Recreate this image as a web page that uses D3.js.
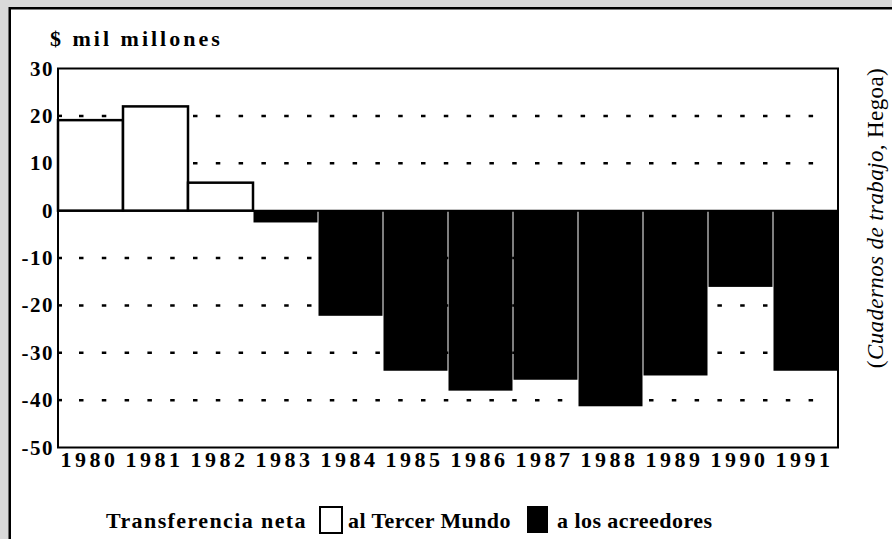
<!DOCTYPE html>
<html>
<head>
<meta charset="utf-8">
<script src="https://cdn.jsdelivr.net/npm/d3@7"></script>
<style>
  body { margin: 0; background: #d9d9d9; }
  svg { display: block; }
  text { font-family: "Liberation Serif", "Times New Roman", serif; fill: #000; }
</style>
</head>
<body>
<svg id="chart" width="892" height="539"></svg>
<script>
// net transfer, billions of dollars
const years = ['1980', '1981', '1982', '1983', '1984', '1985', '1986', '1987', '1988', '1989', '1990', '1991'];
const transfer = [19.1, 22, 5.9, -2.5, -22.2, -33.8, -38, -35.7, -41.3, -34.8, -16.1, -33.8];
const yTicks = [30, 20, 10, 0, -10, -20, -30, -40, -50];
const gridValues = [20, 10, -10, -20, -30, -40];

const svg = d3.select('#chart');

// white panel with black border
svg.append('rect')
  .attr('x', 9.75).attr('y', 8.25)
  .attr('width', 1000).attr('height', 1000)
  .attr('fill', '#fff')
  .attr('stroke', '#000')
  .attr('stroke-width', 2.5);

const plotLeft = 58, plotRight = 838, plotTop = 68.5, plotBottom = 447.5;

const x = d3.scaleBand().domain(years).range([plotLeft, plotRight]).padding(0);
const y = d3.scaleLinear().domain([-50, 30]).range([plotBottom, plotTop]);

// dashed grid lines
svg.append('g')
  .selectAll('line')
  .data(gridValues)
  .join('line')
  .attr('x1', 79).attr('x2', plotRight - 10)
  .attr('y1', d => y(d)).attr('y2', d => y(d))
  .attr('stroke', '#000')
  .attr('stroke-width', 2.5)
  .attr('stroke-dasharray', '4.5 18.3');

// small inward ticks on the left axis
svg.append('g')
  .selectAll('line')
  .data(gridValues)
  .join('line')
  .attr('x1', plotLeft).attr('x2', plotLeft + 4)
  .attr('y1', d => y(d)).attr('y2', d => y(d))
  .attr('stroke', '#000')
  .attr('stroke-width', 2.5);

// zero line
svg.append('line')
  .attr('x1', plotLeft).attr('x2', plotRight)
  .attr('y1', y(0)).attr('y2', y(0))
  .attr('stroke', '#000')
  .attr('stroke-width', 2);

const data = years.map((yr, i) => ({ year: yr, value: transfer[i] }));

// bars: positive = white outlined, negative = black
svg.append('g')
  .selectAll('rect')
  .data(data)
  .join('rect')
  .attr('x', d => d.value >= 0 ? x(d.year) : x(d.year) + 0.5)
  .attr('width', d => d.value >= 0 ? x.bandwidth() : x.bandwidth() - 1)
  .attr('y', d => y(Math.max(0, d.value)))
  .attr('height', d => Math.abs(y(d.value) - y(0)))
  .attr('fill', d => d.value >= 0 ? '#fff' : '#000')
  .attr('stroke', d => d.value >= 0 ? '#000' : 'none')
  .attr('stroke-width', 2.5);

// plot frame
svg.append('rect')
  .attr('x', plotLeft).attr('y', plotTop)
  .attr('width', plotRight - plotLeft).attr('height', plotBottom - plotTop)
  .attr('fill', 'none')
  .attr('stroke', '#000')
  .attr('stroke-width', 2);

// y tick labels
svg.append('g')
  .selectAll('text')
  .data(yTicks)
  .join('text')
  .attr('x', 54)
  .attr('y', d => y(d) + 7)
  .attr('text-anchor', 'end')
  .attr('font-size', '21px')
  .attr('font-weight', 'bold')
  .attr('letter-spacing', '1.5px')
  .text(d => d);

// year labels
svg.append('g')
  .selectAll('text')
  .data(years)
  .join('text')
  .attr('x', d => x(d) + x.bandwidth() / 2 - 1)
  .attr('y', 467)
  .attr('text-anchor', 'middle')
  .attr('font-size', '22px')
  .attr('font-weight', 'bold')
  .attr('letter-spacing', '3.5px')
  .text(d => d);

// unit title
svg.append('text')
  .attr('x', 50).attr('y', 46)
  .attr('font-size', '22px')
  .attr('font-weight', 'bold')
  .attr('letter-spacing', '3px')
  .text('$ mil millones');

// source, rotated on the right
const src = svg.append('text')
  .attr('transform', 'translate(883, 218) rotate(-90)')
  .attr('text-anchor', 'middle')
  .attr('font-size', '23px')
  .attr('letter-spacing', '0.4px');
src.append('tspan').text('(');
src.append('tspan').attr('font-style', 'italic').text('Cuadernos de trabajo,');
src.append('tspan').text(' Hegoa)');

// legend
const legend = svg.append('g').attr('font-size', '22px').attr('font-weight', 'bold');
legend.append('text').attr('x', 106).attr('y', 528)
  .attr('letter-spacing', '1.4px')
  .text('Transferencia neta');
legend.append('rect')
  .attr('x', 320).attr('y', 507)
  .attr('width', 22).attr('height', 26)
  .attr('fill', '#fff').attr('stroke', '#000').attr('stroke-width', 2);
legend.append('text').attr('x', 348).attr('y', 528)
  .attr('letter-spacing', '0.4px')
  .text('al Tercer Mundo');
legend.append('rect')
  .attr('x', 527).attr('y', 506)
  .attr('width', 21).attr('height', 27)
  .attr('fill', '#000');
legend.append('text').attr('x', 557).attr('y', 528)
  .attr('letter-spacing', '0.45px')
  .text('a los acreedores');
</script>
</body>
</html>
